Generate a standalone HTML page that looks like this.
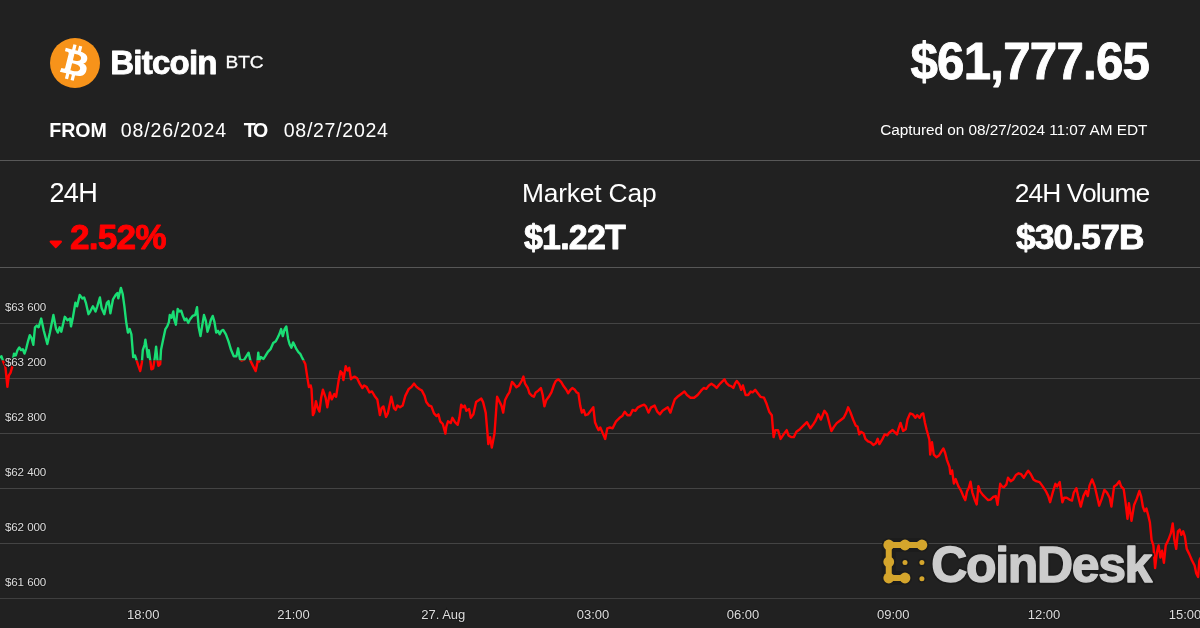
<!DOCTYPE html>
<html><head><meta charset="utf-8"><style>
html,body{margin:0;padding:0;background:#212121;width:1200px;height:628px;overflow:hidden}
svg{display:block;will-change:transform}
text{font-family:"Liberation Sans",sans-serif}
</style></head><body>
<svg width="1200" height="628" viewBox="0 0 1200 628">
<rect width="1200" height="628" fill="#212121"/>

<rect x="0" y="160" width="1200" height="1" fill="#585858"/>
<rect x="0" y="267" width="1200" height="1" fill="#575757"/>
<rect x="0" y="323" width="1200" height="1" fill="#444"/>
<rect x="0" y="378" width="1200" height="1" fill="#444"/>
<rect x="0" y="433" width="1200" height="1" fill="#444"/>
<rect x="0" y="488" width="1200" height="1" fill="#444"/>
<rect x="0" y="543" width="1200" height="1" fill="#444"/>
<rect x="0" y="598" width="1200" height="1" fill="#3f3f3f"/>
<g transform="translate(50,38) scale(0.78125)"><circle cx="32" cy="32" r="32" fill="#f7931a"/>
<path transform="translate(31.5 32) scale(1.15) translate(-32 -32)" fill="#fff" d="M46.11 27.441c.636-4.258-2.606-6.547-7.039-8.074l1.438-5.768-3.512-.875-1.4 5.616c-.922-.23-1.87-.447-2.812-.662l1.41-5.653-3.509-.875-1.439 5.766c-.764-.174-1.514-.346-2.242-.527l.004-.018-4.842-1.209-.934 3.750s2.605.597 2.550.634c1.422.355 1.680 1.296 1.636 2.042l-1.638 6.571c.098.025.225.061.365.117l-.370-.092-2.297 9.205c-.174.432-.615 1.080-1.609.834.035.051-2.552-.637-2.552-.637l-1.743 4.019 4.570 1.139c.850.213 1.683.436 2.502.646l-1.453 5.835 3.507.875 1.440-5.772c.957.260 1.887.500 2.797.726L27.504 50.800l3.511.875 1.453-5.823c5.987 1.133 10.490.676 12.384-4.739 1.527-4.360-.076-6.875-3.226-8.515 2.294-.529 4.022-2.038 4.483-5.155zM38.087 38.690c-1.086 4.360-8.426 2.004-10.807 1.412l1.928-7.729c2.380.594 10.011 1.770 8.880 6.317zm1.085-11.312c-.990 3.966-7.100 1.951-9.083 1.457l1.748-7.010c1.983.494 8.367 1.416 7.335 5.553z"/></g>
<text transform="translate(110.30 73.55) scale(0.9865 1)" x="0" y="0" font-size="33.48" letter-spacing="-0.8" font-weight="700" fill="#fff" stroke="#fff" stroke-width="0.9" stroke-linejoin="round">Bitcoin</text>
<text transform="translate(225.47 68.4) scale(1.1459 1)" x="0" y="0" font-size="16.67" fill="#fff" stroke="#fff" stroke-width="0.3">BTC</text>
<text x="49.23" y="137" font-size="19.57" letter-spacing="0.01" font-weight="700" fill="#fff">FROM</text>
<text x="120.82" y="137" font-size="19.57" letter-spacing="0.81" font-weight="400" fill="#fff">08/26/2024</text>
<text x="243.80" y="137" font-size="19.57" letter-spacing="-2.33" font-weight="700" fill="#fff">TO</text>
<text x="283.72" y="137" font-size="19.57" letter-spacing="0.70" font-weight="400" fill="#fff">08/27/2024</text>
<text transform="translate(910.51 78.95) scale(0.9679 1)" x="0" y="0" font-size="50.87" letter-spacing="-0.8" font-weight="700" fill="#fff" stroke="#fff" stroke-width="0.9" stroke-linejoin="round">$61,777.65</text>
<text x="880.13" y="134.8" font-size="15.36" letter-spacing="-0.04" font-weight="400" fill="#fff">Captured on 08/27/2024 11:07 AM EDT</text>
<text x="49.39" y="202.3" font-size="27.10" letter-spacing="-0.61" font-weight="400" fill="#fff">24H</text>
<text transform="translate(70.02 248.65) scale(1.0259 1)" x="0" y="0" font-size="34.35" letter-spacing="-0.8" font-weight="700" fill="#ff0000" stroke="#ff0000" stroke-width="0.9" stroke-linejoin="round">2.52%</text>
<text x="521.89" y="201.8" font-size="26.38" letter-spacing="-0.17" font-weight="400" fill="#fff">Market Cap</text>
<text transform="translate(523.94 248.55) scale(0.9942 1)" x="0" y="0" font-size="34.20" letter-spacing="-0.8" font-weight="700" fill="#fff" stroke="#fff" stroke-width="0.9" stroke-linejoin="round">$1.22T</text>
<text x="1014.68" y="201.8" font-size="26.38" letter-spacing="-0.90" font-weight="400" fill="#fff">24H Volume</text>
<text transform="translate(1015.92 248.55) scale(1.0324 1)" x="0" y="0" font-size="34.20" letter-spacing="-0.8" font-weight="700" fill="#fff" stroke="#fff" stroke-width="0.9" stroke-linejoin="round">$30.57B</text>
<path d="M50.8 241.6 L60.8 241.6 L55.8 247 Z" fill="#ff0000" stroke="#ff0000" stroke-width="2.4" stroke-linejoin="round"/>
<defs><clipPath id="cg"><rect x="0" y="0" width="1200" height="360.6"/></clipPath>
<clipPath id="cr"><rect x="0" y="360.6" width="1200" height="267.4"/></clipPath></defs>
<path d="M0.0 358.0 L1.4 356.2 L2.6 359.7 L3.5 362.4 L5.3 365.9 L7.4 386.9 L8.8 375.5 L10.5 372.9 L12.3 366.7 L13.1 358.9 L14.0 353.6 L15.8 355.4 L17.5 350.1 L19.3 347.5 L21.0 350.1 L22.8 349.2 L24.5 353.6 L26.3 348.3 L28.0 341.3 L29.8 335.2 L31.5 337.8 L33.3 344.8 L35.0 327.3 L36.8 325.6 L38.6 327.3 L41.2 318.6 L43.8 330.8 L47.3 344.0 L49.9 332.6 L53.4 315.0 L56.1 329.1 L57.8 332.6 L59.6 327.3 L61.3 331.7 L64.8 316.8 L67.5 320.3 L70.1 318.6 L71.0 326.4 L72.7 318.6 L75.4 302.8 L77.1 306.3 L79.7 294.9 L82.4 298.4 L84.1 297.5 L85.9 302.8 L88.5 314.2 L90.2 311.5 L92.9 306.3 L95.5 311.5 L97.3 306.3 L99.9 297.5 L101.6 308.0 L104.3 314.2 L106.9 302.8 L108.6 301.0 L110.4 313.3 L113.0 299.3 L115.7 294.9 L117.4 293.1 L118.3 298.4 L120.9 287.9 L122.7 294.0 L124.4 306.3 L126.2 322.1 L127.9 332.6 L129.7 329.1 L131.4 334.3 L133.2 357.1 L134.9 355.4 L136.7 360.6 L138.4 365.9 L140.2 371.1 L141.9 362.4 L142.8 350.1 L144.6 344.8 L145.4 339.6 L147.2 351.8 L147.9 357.1 L148.8 350.1 L150.5 362.4 L151.4 369.4 L153.1 368.5 L154.9 357.1 L156.1 346.6 L157.5 360.6 L158.4 365.9 L160.2 364.1 L161.0 350.1 L162.8 341.3 L165.4 329.1 L167.2 326.4 L168.9 322.1 L169.8 315.0 L171.5 317.7 L173.3 311.5 L174.2 319.4 L175.9 324.7 L177.7 308.9 L179.4 311.5 L181.2 310.7 L182.9 315.9 L184.7 320.3 L186.4 318.6 L188.2 322.9 L189.9 319.4 L192.6 315.9 L195.2 315.0 L197.0 307.2 L198.7 327.3 L200.5 336.1 L202.2 325.6 L204.0 315.0 L205.7 320.3 L207.5 331.7 L209.2 326.4 L211.0 319.4 L212.7 315.9 L214.5 322.1 L216.2 332.6 L218.0 330.8 L219.7 334.3 L221.5 330.8 L223.2 329.9 L225.9 334.3 L228.5 341.3 L231.1 350.1 L233.8 356.2 L236.4 356.2 L238.1 348.3 L239.9 358.9 L241.6 360.6 L244.3 359.7 L246.9 355.4 L248.6 352.7 L250.4 360.6 L253.0 365.9 L255.7 371.1 L257.4 362.4 L258.3 352.7 L259.2 361.5 L260.9 357.1 L263.5 358.9 L265.3 356.2 L267.9 351.8 L270.5 349.2 L273.2 343.1 L275.8 341.3 L277.6 337.8 L279.3 334.3 L281.1 329.1 L282.8 336.1 L284.6 329.1 L286.3 326.4 L288.1 338.7 L289.6 344.2 L291.4 347.7 L293.1 342.4 L294.9 345.9 L296.6 349.4 L298.4 352.1 L300.2 353.8 L301.9 357.3 L303.7 360.8 L305.4 364.3 L307.2 376.6 L308.9 387.1 L310.7 385.4 L311.5 388.9 L312.9 415.1 L314.2 412.5 L315.9 401.1 L317.7 408.1 L319.4 411.6 L321.2 397.6 L322.9 389.7 L325.6 397.6 L327.3 407.3 L329.9 392.4 L331.7 399.4 L334.3 394.1 L336.1 396.7 L338.7 380.1 L340.5 371.3 L342.2 373.1 L343.4 380.1 L345.7 366.1 L347.5 370.5 L349.2 367.8 L351.0 379.2 L352.7 377.5 L354.5 376.6 L357.1 378.3 L359.7 383.6 L362.4 388.0 L364.1 385.4 L366.7 387.1 L369.4 392.4 L372.0 391.5 L374.6 395.9 L377.3 399.4 L379.9 415.1 L381.6 408.1 L383.4 406.4 L386.0 416.9 L387.8 413.4 L391.3 396.7 L393.9 408.1 L395.7 409.9 L397.4 405.5 L400.0 407.3 L402.7 405.5 L405.3 395.9 L408.8 388.9 L411.4 387.1 L414.1 383.6 L416.7 387.1 L419.3 388.9 L421.9 390.6 L424.6 395.9 L426.3 402.0 L428.9 405.5 L431.4 406.4 L434.0 413.4 L436.6 416.1 L438.4 414.3 L440.2 421.3 L442.8 424.0 L445.4 433.6 L446.3 426.6 L448.0 421.3 L450.7 423.1 L452.4 417.8 L455.0 422.2 L457.7 424.8 L459.4 417.8 L461.2 404.7 L462.9 407.3 L464.7 405.6 L466.4 410.8 L469.1 409.1 L470.8 417.8 L473.4 414.3 L476.1 402.1 L478.7 400.3 L481.3 398.6 L483.1 402.1 L485.7 412.6 L487.5 433.6 L488.3 444.1 L490.1 437.1 L491.8 447.6 L494.5 433.6 L497.1 396.8 L499.7 402.1 L501.5 405.6 L503.2 412.6 L505.0 400.3 L507.6 395.0 L509.4 392.4 L512.0 381.9 L513.8 383.7 L516.4 387.2 L519.0 385.4 L521.6 381.0 L523.4 376.6 L525.1 383.7 L527.8 388.0 L529.5 393.3 L532.1 395.9 L533.9 396.8 L535.7 392.4 L538.3 390.7 L540.9 388.0 L542.7 395.0 L544.4 406.4 L546.2 400.3 L548.8 396.8 L551.4 392.4 L554.1 384.5 L555.8 381.0 L558.4 379.3 L561.1 381.9 L563.7 386.3 L566.3 389.8 L568.1 393.3 L570.5 389.8 L572.3 388.0 L574.9 389.8 L576.6 392.4 L578.4 393.3 L580.2 405.6 L581.9 412.6 L583.7 409.9 L585.4 415.2 L588.0 414.3 L590.7 410.8 L593.3 407.3 L595.0 422.2 L596.8 426.6 L598.6 430.1 L600.3 427.5 L602.9 433.6 L605.2 438.9 L607.3 428.3 L609.9 427.5 L612.6 428.3 L616.1 421.3 L619.6 417.8 L622.2 416.1 L624.8 411.7 L627.5 415.2 L630.1 415.2 L632.7 409.9 L635.4 410.8 L638.0 407.3 L641.5 405.6 L644.1 404.7 L645.9 406.4 L648.5 412.6 L651.1 407.3 L654.6 405.6 L657.3 411.7 L659.9 414.3 L662.5 410.8 L665.1 409.1 L667.8 407.3 L670.4 412.6 L672.1 407.3 L674.8 399.4 L677.4 396.8 L680.9 394.2 L684.4 391.5 L687.0 395.0 L690.5 397.7 L694.1 397.7 L697.6 395.0 L701.1 390.7 L703.7 388.0 L706.3 388.9 L708.9 385.4 L711.4 383.7 L714.0 385.4 L716.6 388.0 L719.3 384.5 L721.9 381.9 L724.5 379.3 L726.3 382.8 L728.9 385.4 L731.5 386.3 L733.3 388.0 L735.0 383.7 L736.8 381.0 L739.4 384.5 L741.2 389.8 L742.9 385.4 L745.6 395.0 L748.2 395.0 L750.8 391.5 L752.6 392.4 L755.2 389.8 L757.8 393.3 L760.5 396.8 L764.0 397.7 L766.6 403.8 L769.2 411.7 L771.8 415.2 L773.6 437.1 L775.4 430.1 L778.0 430.1 L780.6 438.9 L784.1 433.6 L786.7 430.1 L788.5 435.4 L791.1 437.1 L793.8 437.1 L796.4 431.8 L799.9 429.2 L803.4 425.7 L806.9 422.2 L810.4 428.3 L813.0 424.8 L815.7 420.5 L818.3 414.3 L820.9 419.6 L824.4 410.8 L827.0 414.3 L829.7 424.8 L831.4 431.0 L834.1 426.6 L836.7 423.1 L840.2 420.5 L843.7 417.8 L846.3 412.6 L848.1 407.3 L850.5 412.5 L853.1 419.5 L855.8 425.7 L857.5 426.5 L859.3 434.4 L861.0 431.8 L863.7 433.6 L865.4 438.8 L868.0 441.4 L870.7 442.3 L873.3 444.9 L875.9 443.2 L877.7 438.8 L879.4 444.1 L882.1 439.7 L884.7 434.4 L887.3 435.3 L889.1 432.7 L892.6 430.0 L895.2 432.7 L897.0 434.4 L898.7 428.3 L900.5 423.0 L903.1 430.9 L905.7 429.2 L907.5 419.5 L910.1 413.4 L912.7 414.3 L915.4 417.8 L917.1 415.2 L919.7 417.8 L921.5 414.3 L923.2 413.4 L925.0 423.0 L926.7 430.0 L929.4 439.7 L930.2 454.6 L932.0 442.3 L933.8 454.6 L936.4 457.2 L939.0 455.5 L941.6 451.1 L943.4 448.4 L945.1 452.8 L946.9 459.8 L949.5 466.8 L950.4 473.9 L952.1 470.4 L953.9 483.5 L955.7 479.1 L958.3 486.1 L960.9 490.5 L963.5 496.6 L965.3 500.1 L967.0 491.4 L968.8 487.9 L970.5 481.7 L972.3 492.3 L974.9 500.1 L976.7 504.5 L978.4 486.1 L980.2 491.4 L982.8 494.9 L985.4 497.5 L988.1 500.1 L990.5 499.6 L993.1 497.0 L995.8 496.1 L997.5 504.8 L1000.2 483.8 L1001.9 486.4 L1003.7 487.3 L1006.3 484.7 L1008.0 477.7 L1010.7 481.2 L1013.3 479.4 L1015.9 475.0 L1018.6 473.3 L1021.2 474.2 L1023.8 477.7 L1026.4 473.3 L1028.2 470.7 L1030.8 474.2 L1033.4 479.4 L1036.1 481.2 L1039.6 482.1 L1042.2 485.6 L1045.7 490.8 L1048.3 496.1 L1050.1 502.2 L1052.7 492.6 L1055.4 483.8 L1057.1 486.4 L1059.7 482.1 L1061.5 496.1 L1062.4 502.2 L1064.1 497.8 L1066.7 497.8 L1069.4 499.6 L1072.0 500.5 L1073.8 492.6 L1076.4 488.2 L1078.1 496.1 L1080.8 506.6 L1083.4 496.1 L1086.0 490.8 L1087.8 496.1 L1089.5 485.6 L1092.1 479.4 L1094.8 486.4 L1097.4 497.8 L1099.2 505.7 L1101.8 498.7 L1104.4 489.9 L1107.0 492.6 L1109.7 497.8 L1111.4 506.6 L1114.1 486.4 L1116.7 484.7 L1119.3 481.2 L1121.1 486.4 L1123.7 489.1 L1125.4 501.3 L1127.5 518.9 L1128.9 503.1 L1131.5 520.8 L1134.1 505.0 L1136.7 498.9 L1139.4 491.0 L1141.1 496.3 L1142.9 506.8 L1144.6 511.2 L1146.4 508.6 L1148.1 514.7 L1149.9 522.6 L1151.6 540.1 L1153.4 545.4 L1155.1 568.1 L1156.9 552.4 L1158.6 545.4 L1160.4 557.6 L1162.1 550.6 L1163.9 562.9 L1165.7 545.4 L1168.3 540.1 L1170.9 533.1 L1172.7 523.4 L1174.4 540.1 L1176.2 548.9 L1177.9 531.3 L1179.7 529.6 L1181.4 534.8 L1183.2 531.3 L1184.9 536.6 L1186.7 548.9 L1189.3 554.1 L1191.9 560.2 L1194.6 565.5 L1196.3 573.4 L1198.1 576.9 L1199.3 561.1 L1200.4 557.6" fill="none" stroke="#1ade74" stroke-width="2.4" stroke-linejoin="round" clip-path="url(#cg)"/>
<path d="M0.0 358.0 L1.4 356.2 L2.6 359.7 L3.5 362.4 L5.3 365.9 L7.4 386.9 L8.8 375.5 L10.5 372.9 L12.3 366.7 L13.1 358.9 L14.0 353.6 L15.8 355.4 L17.5 350.1 L19.3 347.5 L21.0 350.1 L22.8 349.2 L24.5 353.6 L26.3 348.3 L28.0 341.3 L29.8 335.2 L31.5 337.8 L33.3 344.8 L35.0 327.3 L36.8 325.6 L38.6 327.3 L41.2 318.6 L43.8 330.8 L47.3 344.0 L49.9 332.6 L53.4 315.0 L56.1 329.1 L57.8 332.6 L59.6 327.3 L61.3 331.7 L64.8 316.8 L67.5 320.3 L70.1 318.6 L71.0 326.4 L72.7 318.6 L75.4 302.8 L77.1 306.3 L79.7 294.9 L82.4 298.4 L84.1 297.5 L85.9 302.8 L88.5 314.2 L90.2 311.5 L92.9 306.3 L95.5 311.5 L97.3 306.3 L99.9 297.5 L101.6 308.0 L104.3 314.2 L106.9 302.8 L108.6 301.0 L110.4 313.3 L113.0 299.3 L115.7 294.9 L117.4 293.1 L118.3 298.4 L120.9 287.9 L122.7 294.0 L124.4 306.3 L126.2 322.1 L127.9 332.6 L129.7 329.1 L131.4 334.3 L133.2 357.1 L134.9 355.4 L136.7 360.6 L138.4 365.9 L140.2 371.1 L141.9 362.4 L142.8 350.1 L144.6 344.8 L145.4 339.6 L147.2 351.8 L147.9 357.1 L148.8 350.1 L150.5 362.4 L151.4 369.4 L153.1 368.5 L154.9 357.1 L156.1 346.6 L157.5 360.6 L158.4 365.9 L160.2 364.1 L161.0 350.1 L162.8 341.3 L165.4 329.1 L167.2 326.4 L168.9 322.1 L169.8 315.0 L171.5 317.7 L173.3 311.5 L174.2 319.4 L175.9 324.7 L177.7 308.9 L179.4 311.5 L181.2 310.7 L182.9 315.9 L184.7 320.3 L186.4 318.6 L188.2 322.9 L189.9 319.4 L192.6 315.9 L195.2 315.0 L197.0 307.2 L198.7 327.3 L200.5 336.1 L202.2 325.6 L204.0 315.0 L205.7 320.3 L207.5 331.7 L209.2 326.4 L211.0 319.4 L212.7 315.9 L214.5 322.1 L216.2 332.6 L218.0 330.8 L219.7 334.3 L221.5 330.8 L223.2 329.9 L225.9 334.3 L228.5 341.3 L231.1 350.1 L233.8 356.2 L236.4 356.2 L238.1 348.3 L239.9 358.9 L241.6 360.6 L244.3 359.7 L246.9 355.4 L248.6 352.7 L250.4 360.6 L253.0 365.9 L255.7 371.1 L257.4 362.4 L258.3 352.7 L259.2 361.5 L260.9 357.1 L263.5 358.9 L265.3 356.2 L267.9 351.8 L270.5 349.2 L273.2 343.1 L275.8 341.3 L277.6 337.8 L279.3 334.3 L281.1 329.1 L282.8 336.1 L284.6 329.1 L286.3 326.4 L288.1 338.7 L289.6 344.2 L291.4 347.7 L293.1 342.4 L294.9 345.9 L296.6 349.4 L298.4 352.1 L300.2 353.8 L301.9 357.3 L303.7 360.8 L305.4 364.3 L307.2 376.6 L308.9 387.1 L310.7 385.4 L311.5 388.9 L312.9 415.1 L314.2 412.5 L315.9 401.1 L317.7 408.1 L319.4 411.6 L321.2 397.6 L322.9 389.7 L325.6 397.6 L327.3 407.3 L329.9 392.4 L331.7 399.4 L334.3 394.1 L336.1 396.7 L338.7 380.1 L340.5 371.3 L342.2 373.1 L343.4 380.1 L345.7 366.1 L347.5 370.5 L349.2 367.8 L351.0 379.2 L352.7 377.5 L354.5 376.6 L357.1 378.3 L359.7 383.6 L362.4 388.0 L364.1 385.4 L366.7 387.1 L369.4 392.4 L372.0 391.5 L374.6 395.9 L377.3 399.4 L379.9 415.1 L381.6 408.1 L383.4 406.4 L386.0 416.9 L387.8 413.4 L391.3 396.7 L393.9 408.1 L395.7 409.9 L397.4 405.5 L400.0 407.3 L402.7 405.5 L405.3 395.9 L408.8 388.9 L411.4 387.1 L414.1 383.6 L416.7 387.1 L419.3 388.9 L421.9 390.6 L424.6 395.9 L426.3 402.0 L428.9 405.5 L431.4 406.4 L434.0 413.4 L436.6 416.1 L438.4 414.3 L440.2 421.3 L442.8 424.0 L445.4 433.6 L446.3 426.6 L448.0 421.3 L450.7 423.1 L452.4 417.8 L455.0 422.2 L457.7 424.8 L459.4 417.8 L461.2 404.7 L462.9 407.3 L464.7 405.6 L466.4 410.8 L469.1 409.1 L470.8 417.8 L473.4 414.3 L476.1 402.1 L478.7 400.3 L481.3 398.6 L483.1 402.1 L485.7 412.6 L487.5 433.6 L488.3 444.1 L490.1 437.1 L491.8 447.6 L494.5 433.6 L497.1 396.8 L499.7 402.1 L501.5 405.6 L503.2 412.6 L505.0 400.3 L507.6 395.0 L509.4 392.4 L512.0 381.9 L513.8 383.7 L516.4 387.2 L519.0 385.4 L521.6 381.0 L523.4 376.6 L525.1 383.7 L527.8 388.0 L529.5 393.3 L532.1 395.9 L533.9 396.8 L535.7 392.4 L538.3 390.7 L540.9 388.0 L542.7 395.0 L544.4 406.4 L546.2 400.3 L548.8 396.8 L551.4 392.4 L554.1 384.5 L555.8 381.0 L558.4 379.3 L561.1 381.9 L563.7 386.3 L566.3 389.8 L568.1 393.3 L570.5 389.8 L572.3 388.0 L574.9 389.8 L576.6 392.4 L578.4 393.3 L580.2 405.6 L581.9 412.6 L583.7 409.9 L585.4 415.2 L588.0 414.3 L590.7 410.8 L593.3 407.3 L595.0 422.2 L596.8 426.6 L598.6 430.1 L600.3 427.5 L602.9 433.6 L605.2 438.9 L607.3 428.3 L609.9 427.5 L612.6 428.3 L616.1 421.3 L619.6 417.8 L622.2 416.1 L624.8 411.7 L627.5 415.2 L630.1 415.2 L632.7 409.9 L635.4 410.8 L638.0 407.3 L641.5 405.6 L644.1 404.7 L645.9 406.4 L648.5 412.6 L651.1 407.3 L654.6 405.6 L657.3 411.7 L659.9 414.3 L662.5 410.8 L665.1 409.1 L667.8 407.3 L670.4 412.6 L672.1 407.3 L674.8 399.4 L677.4 396.8 L680.9 394.2 L684.4 391.5 L687.0 395.0 L690.5 397.7 L694.1 397.7 L697.6 395.0 L701.1 390.7 L703.7 388.0 L706.3 388.9 L708.9 385.4 L711.4 383.7 L714.0 385.4 L716.6 388.0 L719.3 384.5 L721.9 381.9 L724.5 379.3 L726.3 382.8 L728.9 385.4 L731.5 386.3 L733.3 388.0 L735.0 383.7 L736.8 381.0 L739.4 384.5 L741.2 389.8 L742.9 385.4 L745.6 395.0 L748.2 395.0 L750.8 391.5 L752.6 392.4 L755.2 389.8 L757.8 393.3 L760.5 396.8 L764.0 397.7 L766.6 403.8 L769.2 411.7 L771.8 415.2 L773.6 437.1 L775.4 430.1 L778.0 430.1 L780.6 438.9 L784.1 433.6 L786.7 430.1 L788.5 435.4 L791.1 437.1 L793.8 437.1 L796.4 431.8 L799.9 429.2 L803.4 425.7 L806.9 422.2 L810.4 428.3 L813.0 424.8 L815.7 420.5 L818.3 414.3 L820.9 419.6 L824.4 410.8 L827.0 414.3 L829.7 424.8 L831.4 431.0 L834.1 426.6 L836.7 423.1 L840.2 420.5 L843.7 417.8 L846.3 412.6 L848.1 407.3 L850.5 412.5 L853.1 419.5 L855.8 425.7 L857.5 426.5 L859.3 434.4 L861.0 431.8 L863.7 433.6 L865.4 438.8 L868.0 441.4 L870.7 442.3 L873.3 444.9 L875.9 443.2 L877.7 438.8 L879.4 444.1 L882.1 439.7 L884.7 434.4 L887.3 435.3 L889.1 432.7 L892.6 430.0 L895.2 432.7 L897.0 434.4 L898.7 428.3 L900.5 423.0 L903.1 430.9 L905.7 429.2 L907.5 419.5 L910.1 413.4 L912.7 414.3 L915.4 417.8 L917.1 415.2 L919.7 417.8 L921.5 414.3 L923.2 413.4 L925.0 423.0 L926.7 430.0 L929.4 439.7 L930.2 454.6 L932.0 442.3 L933.8 454.6 L936.4 457.2 L939.0 455.5 L941.6 451.1 L943.4 448.4 L945.1 452.8 L946.9 459.8 L949.5 466.8 L950.4 473.9 L952.1 470.4 L953.9 483.5 L955.7 479.1 L958.3 486.1 L960.9 490.5 L963.5 496.6 L965.3 500.1 L967.0 491.4 L968.8 487.9 L970.5 481.7 L972.3 492.3 L974.9 500.1 L976.7 504.5 L978.4 486.1 L980.2 491.4 L982.8 494.9 L985.4 497.5 L988.1 500.1 L990.5 499.6 L993.1 497.0 L995.8 496.1 L997.5 504.8 L1000.2 483.8 L1001.9 486.4 L1003.7 487.3 L1006.3 484.7 L1008.0 477.7 L1010.7 481.2 L1013.3 479.4 L1015.9 475.0 L1018.6 473.3 L1021.2 474.2 L1023.8 477.7 L1026.4 473.3 L1028.2 470.7 L1030.8 474.2 L1033.4 479.4 L1036.1 481.2 L1039.6 482.1 L1042.2 485.6 L1045.7 490.8 L1048.3 496.1 L1050.1 502.2 L1052.7 492.6 L1055.4 483.8 L1057.1 486.4 L1059.7 482.1 L1061.5 496.1 L1062.4 502.2 L1064.1 497.8 L1066.7 497.8 L1069.4 499.6 L1072.0 500.5 L1073.8 492.6 L1076.4 488.2 L1078.1 496.1 L1080.8 506.6 L1083.4 496.1 L1086.0 490.8 L1087.8 496.1 L1089.5 485.6 L1092.1 479.4 L1094.8 486.4 L1097.4 497.8 L1099.2 505.7 L1101.8 498.7 L1104.4 489.9 L1107.0 492.6 L1109.7 497.8 L1111.4 506.6 L1114.1 486.4 L1116.7 484.7 L1119.3 481.2 L1121.1 486.4 L1123.7 489.1 L1125.4 501.3 L1127.5 518.9 L1128.9 503.1 L1131.5 520.8 L1134.1 505.0 L1136.7 498.9 L1139.4 491.0 L1141.1 496.3 L1142.9 506.8 L1144.6 511.2 L1146.4 508.6 L1148.1 514.7 L1149.9 522.6 L1151.6 540.1 L1153.4 545.4 L1155.1 568.1 L1156.9 552.4 L1158.6 545.4 L1160.4 557.6 L1162.1 550.6 L1163.9 562.9 L1165.7 545.4 L1168.3 540.1 L1170.9 533.1 L1172.7 523.4 L1174.4 540.1 L1176.2 548.9 L1177.9 531.3 L1179.7 529.6 L1181.4 534.8 L1183.2 531.3 L1184.9 536.6 L1186.7 548.9 L1189.3 554.1 L1191.9 560.2 L1194.6 565.5 L1196.3 573.4 L1198.1 576.9 L1199.3 561.1 L1200.4 557.6" fill="none" stroke="#ff0000" stroke-width="2.4" stroke-linejoin="round" clip-path="url(#cr)"/>

<text x="4.88" y="311" font-size="11.59" letter-spacing="-0.07" fill="#dcdcdc" stroke="#1a1a1a" stroke-width="2" paint-order="stroke">$63 600</text>
<text x="4.88" y="366" font-size="11.59" letter-spacing="-0.07" fill="#dcdcdc" stroke="#1a1a1a" stroke-width="2" paint-order="stroke">$63 200</text>
<text x="4.88" y="421" font-size="11.59" letter-spacing="-0.07" fill="#dcdcdc" stroke="#1a1a1a" stroke-width="2" paint-order="stroke">$62 800</text>
<text x="4.88" y="476" font-size="11.59" letter-spacing="-0.07" fill="#dcdcdc" stroke="#1a1a1a" stroke-width="2" paint-order="stroke">$62 400</text>
<text x="4.88" y="531" font-size="11.59" letter-spacing="-0.07" fill="#dcdcdc" stroke="#1a1a1a" stroke-width="2" paint-order="stroke">$62 000</text>
<text x="4.88" y="586" font-size="11.59" letter-spacing="-0.07" fill="#dcdcdc" stroke="#1a1a1a" stroke-width="2" paint-order="stroke">$61 600</text>
<text x="143.3" y="618.7" font-size="13" text-anchor="middle" fill="#dcdcdc" stroke="#1a1a1a" stroke-width="2" paint-order="stroke">18:00</text>
<text x="293.5" y="618.7" font-size="13" text-anchor="middle" fill="#dcdcdc" stroke="#1a1a1a" stroke-width="2" paint-order="stroke">21:00</text>
<text x="443.3" y="618.7" font-size="13" text-anchor="middle" fill="#dcdcdc" stroke="#1a1a1a" stroke-width="2" paint-order="stroke">27. Aug</text>
<text x="593" y="618.7" font-size="13" text-anchor="middle" fill="#dcdcdc" stroke="#1a1a1a" stroke-width="2" paint-order="stroke">03:00</text>
<text x="743" y="618.7" font-size="13" text-anchor="middle" fill="#dcdcdc" stroke="#1a1a1a" stroke-width="2" paint-order="stroke">06:00</text>
<text x="893.3" y="618.7" font-size="13" text-anchor="middle" fill="#dcdcdc" stroke="#1a1a1a" stroke-width="2" paint-order="stroke">09:00</text>
<text x="1044" y="618.7" font-size="13" text-anchor="middle" fill="#dcdcdc" stroke="#1a1a1a" stroke-width="2" paint-order="stroke">12:00</text>
<text x="1185" y="618.7" font-size="13" text-anchor="middle" fill="#dcdcdc" stroke="#1a1a1a" stroke-width="2" paint-order="stroke">15:00</text>
<path d="M888.75 545 L921.9 545 M888.75 545 L888.75 578 L905 578" stroke="#1c1c1c" stroke-width="14" stroke-linecap="round" stroke-linejoin="round" fill="none"/>
<circle cx="905" cy="562.5" r="4" fill="#1c1c1c"/>
<circle cx="921.9" cy="562.5" r="4" fill="#1c1c1c"/>
<circle cx="921.9" cy="578.75" r="4" fill="#1c1c1c"/>
<path d="M888.75 545 L921.9 545 M888.75 545 L888.75 578 L905 578" stroke="#d4a52c" stroke-width="6" fill="none"/>
<circle cx="888.75" cy="545" r="5.4" fill="#d4a52c"/>
<circle cx="905" cy="545" r="5.4" fill="#d4a52c"/>
<circle cx="921.9" cy="545" r="5.4" fill="#d4a52c"/>
<circle cx="888.75" cy="561.9" r="5.4" fill="#d4a52c"/>
<circle cx="888.75" cy="578" r="5.4" fill="#d4a52c"/>
<circle cx="905" cy="578" r="5.4" fill="#d4a52c"/>
<circle cx="905" cy="562.5" r="2.5" fill="#d4a52c"/>
<circle cx="921.9" cy="562.5" r="2.5" fill="#d4a52c"/>
<circle cx="921.9" cy="578.75" r="2.5" fill="#d4a52c"/>
<text x="931.30" y="582" font-size="50.00" letter-spacing="-1.36" font-weight="700" fill="#cccccc" stroke="#1c1c1c" stroke-width="5" stroke-linejoin="round">CoinDesk</text>
<text x="931.30" y="582" font-size="50.00" letter-spacing="-1.36" font-weight="700" fill="#cccccc" stroke="#cccccc" stroke-width="1.4" stroke-linejoin="round">CoinDesk</text>
</svg></body></html>
